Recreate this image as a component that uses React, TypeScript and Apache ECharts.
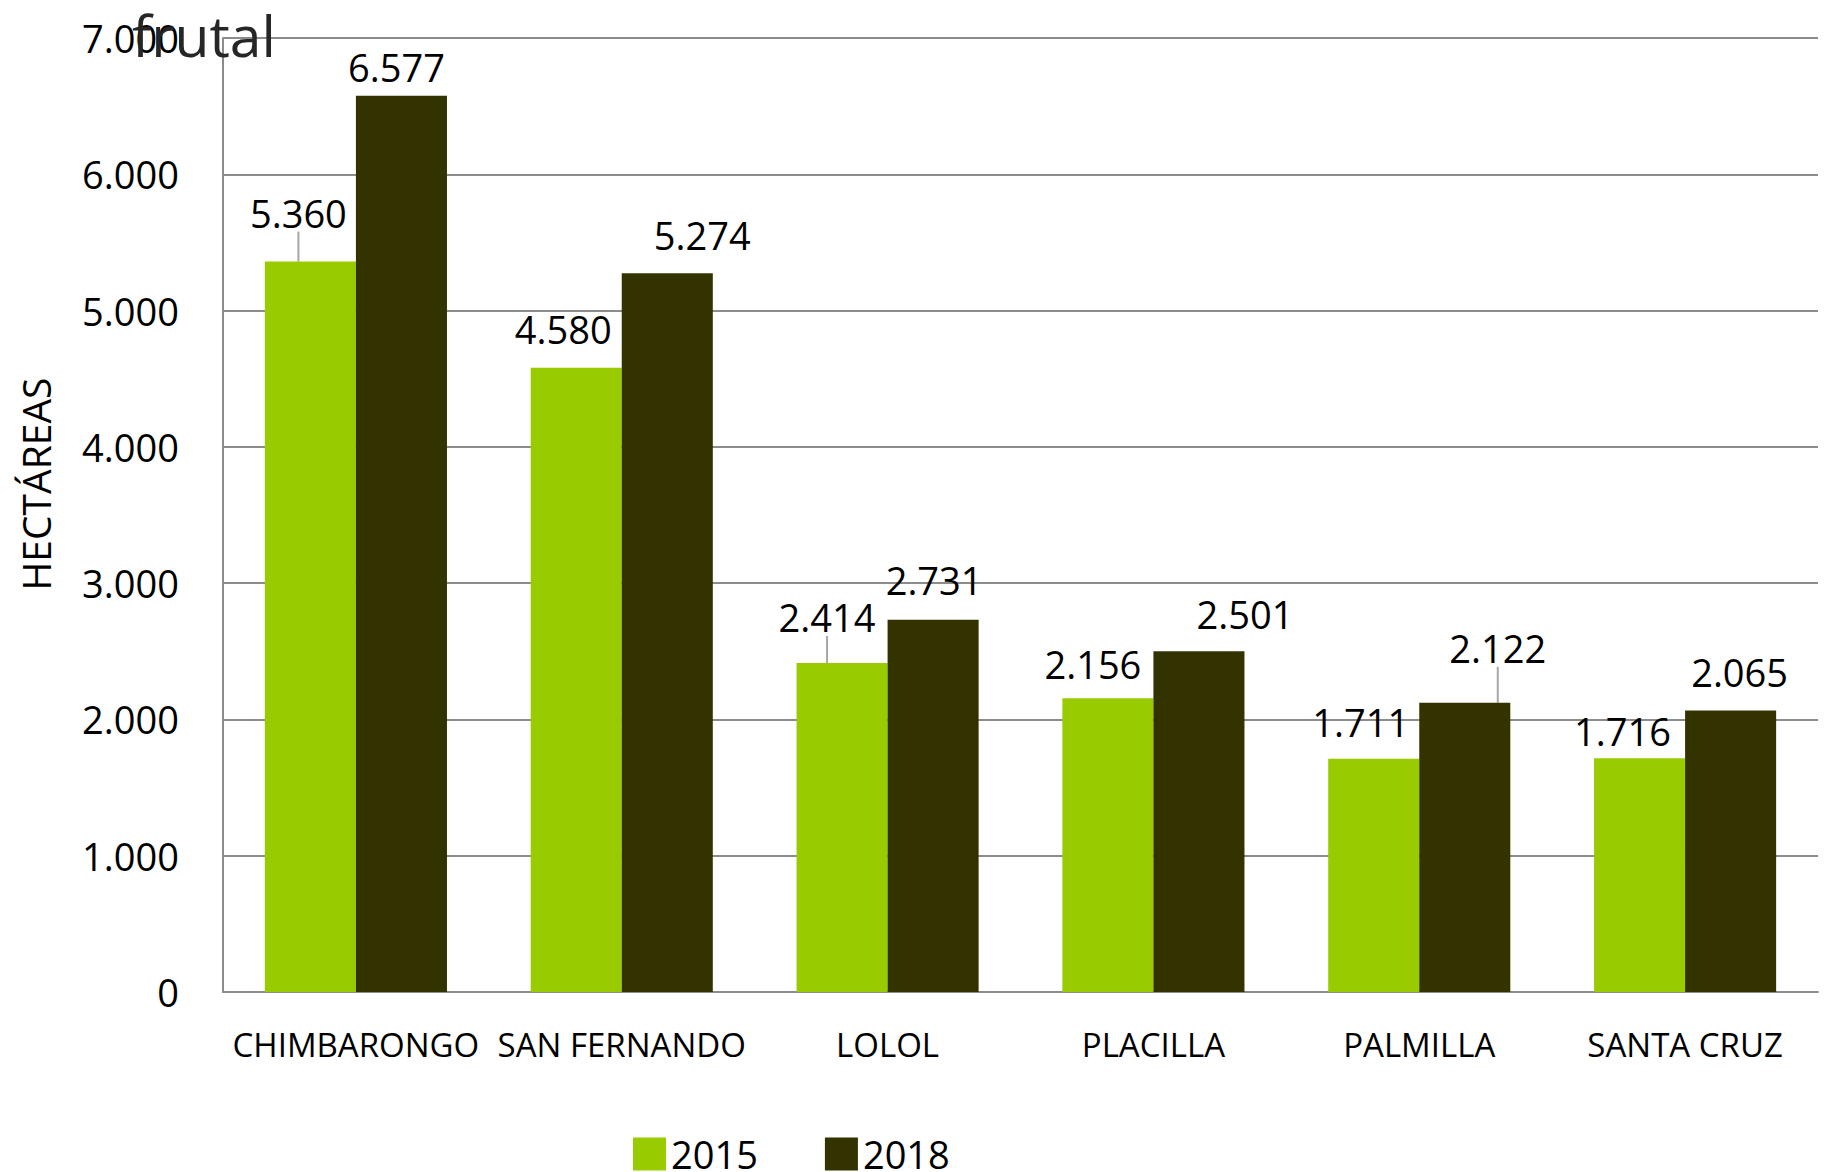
import React, { useEffect, useRef } from "react";
import * as echarts from "echarts";

const categories = ["CHIMBARONGO", "SAN FERNANDO", "LOLOL", "PLACILLA", "PALMILLA", "SANTA CRUZ"];
const values2015 = [5360, 4580, 2414, 2156, 1711, 1716];
const values2018 = [6577, 5274, 2731, 2501, 2122, 2065];
const seriesNames = ["2015", "2018"];
const yTicks = { min: 0, max: 7000, interval: 1000 };

// label layout (manual label placement as in the original), per series
const labelShift2015 = [[-12, -25], [-13, -15], [-15, -22], [-15, -10], [-13, -13], [-17, -3]];
const labelShift2018 = [[-5, -5], [35, -14], [1, -16], [46, -13], [33, -31], [9, -15]];
const leader2015 = [true, false, true, false, false, false];
const leader2018 = [false, false, false, false, true, false];

const FONT = "'Open Sans', 'Noto Sans', sans-serif";
const fmt = (v: number) => String(v).replace(/\B(?=(\d{3})+(?!\d))/g, ".");

export default function App() {
  const ref = useRef<HTMLDivElement>(null);
  useEffect(() => {
    document.body.style.margin = "0";
    const chart = echarts.init(ref.current!, null, { renderer: "svg" });
    const shifts = [labelShift2015, labelShift2018];
    const leaders = [leader2015, leader2018];
    const mkData = (vals: number[], si: number) =>
      vals.map((v, i) => ({
        value: v,
        labelLine: { show: leaders[si][i] },
      }));
    chart.setOption({
      animation: false,
      backgroundColor: "#ffffff",
      title: {
        text: "frutal",
        left: 127,
        top: 1,
        textStyle: { fontFamily: FONT, fontSize: 57, fontWeight: "normal", color: "#262626" },
      },
      legend: {
        left: 628,
        top: 1130,
        itemWidth: 33,
        itemHeight: 33,
        itemGap: 67,
        icon: "rect",
        textStyle: { fontFamily: FONT, fontSize: 38, color: "#000" },
        data: seriesNames,
      },
      grid: { left: 223, right: 6, top: 38, bottom: 180 },
      xAxis: {
        type: "category",
        data: categories,
        axisLine: { show: true, lineStyle: { color: "#8c8c8c", width: 2 } },
        axisTick: { show: false },
        axisLabel: { interval: 0, margin: 36, fontFamily: FONT, fontSize: 33, color: "#000" },
      },
      yAxis: {
        type: "value",
        min: yTicks.min,
        max: yTicks.max,
        interval: yTicks.interval,
        axisLine: { show: true, lineStyle: { color: "#8c8c8c", width: 2 } },
        axisTick: { show: false },
        splitLine: { show: true, lineStyle: { color: "#8c8c8c", width: 2 } },
        axisLabel: { margin: 44, fontFamily: FONT, fontSize: 38, color: "#000", formatter: (v: number) => fmt(v) },
      },
      graphic: [
        {
          type: "text",
          x: 35,
          y: 484,
          rotation: Math.PI / 2,
          style: {
            text: "HECTÁREAS",
            fontFamily: FONT,
            fontSize: 39,
            fill: "#000",
            align: "center",
            verticalAlign: "middle",
          },
        },
      ],
      series: [values2015, values2018].map((vals, si) => ({
        type: "bar",
        name: seriesNames[si],
        data: mkData(vals, si),
        barGap: "0%",
        barCategoryGap: "31.5%",
        itemStyle: { color: si === 0 ? "#99cc00" : "#333300" },
        label: {
          show: true,
          position: "top",
          fontFamily: FONT,
          fontSize: 38,
          color: "#000",
          formatter: (p: any) => fmt(p.value),
        },
        labelLine: { show: false, lineStyle: { color: "#a6a6a6", width: 2 } },
        labelLayout: (p: any) => ({ dx: shifts[si][p.dataIndex][0], dy: shifts[si][p.dataIndex][1] }),
      })),
    });
    return () => chart.dispose();
  }, []);
  return <div ref={ref} style={{ width: 1824, height: 1172 }} />;
}
